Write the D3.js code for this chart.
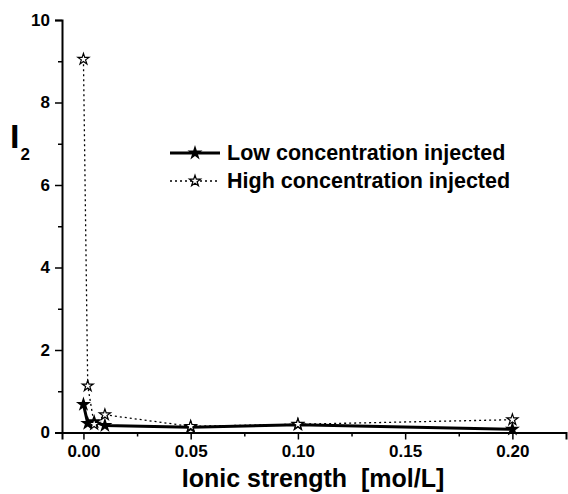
<!DOCTYPE html>
<html>
<head>
<meta charset="utf-8">
<script src="https://cdn.jsdelivr.net/npm/d3@7"></script>
<style>
  html, body { margin: 0; padding: 0; background: #fff; }
  svg { display: block; font-family: "Liberation Sans", Arial, sans-serif; font-weight: bold; }
</style>
</head>
<body>
<svg id="chart" width="568" height="494"></svg>
<script>
// Ionic strength in mol/L
const ionicStrength = [0, 0.002, 0.005, 0.01, 0.05, 0.1, 0.2];
// I2 for the two injection concentrations
const lowConc = [0.68, 0.22, 0.26, 0.17, 0.13, 0.19, 0.08];
const highConc = [9.05, 1.13, 0.2, 0.43, 0.15, 0.2, 0.31];
const seriesNames = ["Low concentration injected", "High concentration injected"];
const xTickValues = [0, 0.05, 0.1, 0.15, 0.2];
const xMinorValues = [0.025, 0.075, 0.125, 0.175];
const yTickValues = [0, 2, 4, 6, 8, 10];
const yMinorValues = [1, 3, 5, 7, 9];

const svg = d3.select("#chart");

const x = d3.scaleLinear().domain([-0.01, 0.225]).range([62, 566]);
const y = d3.scaleLinear().domain([0, 10]).range([432.5, 20]);

// Axes: major ticks labelled, minor ticks shorter
svg.append("g").attr("transform", `translate(0,${y(0)})`)
  .call(d3.axisBottom(x).tickValues(xTickValues).tickFormat(d3.format(".2f")).tickSizeOuter(0).tickSize(7).tickPadding(5));
svg.append("g").attr("transform", `translate(0,${y(0)})`)
  .call(d3.axisBottom(x).tickValues(xMinorValues).tickFormat("").tickSizeOuter(0).tickSize(4))
  .select(".domain").remove();

svg.append("g").attr("transform", `translate(${x(-0.01)},0)`)
  .call(d3.axisLeft(y).tickValues(yTickValues).tickFormat(d3.format("d")).tickSizeOuter(0).tickSize(7).tickPadding(5));
svg.append("g").attr("transform", `translate(${x(-0.01)},0)`)
  .call(d3.axisLeft(y).tickValues(yMinorValues).tickFormat("").tickSizeOuter(0).tickSize(4))
  .select(".domain").remove();

svg.selectAll(".domain").attr("stroke", "#000").attr("stroke-width", 2);
svg.selectAll(".tick line").attr("stroke", "#000").attr("stroke-width", 1.5);
svg.selectAll(".tick text")
  .attr("fill", "#000")
  .style("font-size", "17px")
  .style("font-weight", "bold")
  .style("font-family", "'Liberation Sans', Arial, sans-serif");

// Axis titles
svg.append("text")
  .attr("x", 313).attr("y", 487)
  .attr("text-anchor", "middle")
  .style("font-size", "25px")
  .text("Ionic strength\u00a0\u00a0[mol/L]");

const yTitle = svg.append("text").attr("x", 10).attr("y", 148);
yTitle.append("tspan").style("font-size", "34px").text("I");
yTitle.append("tspan").attr("dy", 12).attr("dx", 1).style("font-size", "17px").text("2");

// Data series
const lowData = ionicStrength.map((d, i) => [d, lowConc[i]]);
const highData = ionicStrength.map((d, i) => [d, highConc[i]]);
const line = d3.line().x(d => x(d[0])).y(d => y(d[1]));

const starLarge = d3.symbol().type(d3.symbolStar).size(70);
const starSmall = d3.symbol().type(d3.symbolStar).size(38);

svg.append("path").datum(highData)
  .attr("d", line)
  .attr("fill", "none").attr("stroke", "#000")
  .attr("stroke-width", 1.3).attr("stroke-dasharray", "2,3");

svg.append("path").datum(lowData)
  .attr("d", line)
  .attr("fill", "none").attr("stroke", "#000")
  .attr("stroke-width", 3);

svg.append("g").selectAll("path").data(lowData).join("path")
  .attr("transform", d => `translate(${x(d[0])},${y(d[1])})`)
  .attr("d", starLarge).attr("fill", "#000");

svg.append("g").selectAll("path").data(highData).join("path")
  .attr("transform", d => `translate(${x(d[0])},${y(d[1])})`)
  .attr("d", starSmall).attr("fill", "#fff").attr("stroke", "#000").attr("stroke-width", 1.2);

// Legend
const legend = svg.append("g");
const legendY = [153, 181];
legend.append("line").attr("x1", 170).attr("x2", 220).attr("y1", legendY[0]).attr("y2", legendY[0])
  .attr("stroke", "#000").attr("stroke-width", 3);
legend.append("path").attr("transform", `translate(195,${legendY[0]})`).attr("d", starLarge).attr("fill", "#000");
legend.append("line").attr("x1", 170).attr("x2", 220).attr("y1", legendY[1]).attr("y2", legendY[1])
  .attr("stroke", "#000").attr("stroke-width", 1.3).attr("stroke-dasharray", "2,3");
legend.append("path").attr("transform", `translate(195,${legendY[1]})`).attr("d", starSmall)
  .attr("fill", "#fff").attr("stroke", "#000").attr("stroke-width", 1.2);
legend.selectAll("text").data(seriesNames).join("text")
  .attr("x", 227).attr("y", (d, i) => legendY[i] + 7)
  .style("font-size", "21.5px")
  .text(d => d);
</script>
</body>
</html>
